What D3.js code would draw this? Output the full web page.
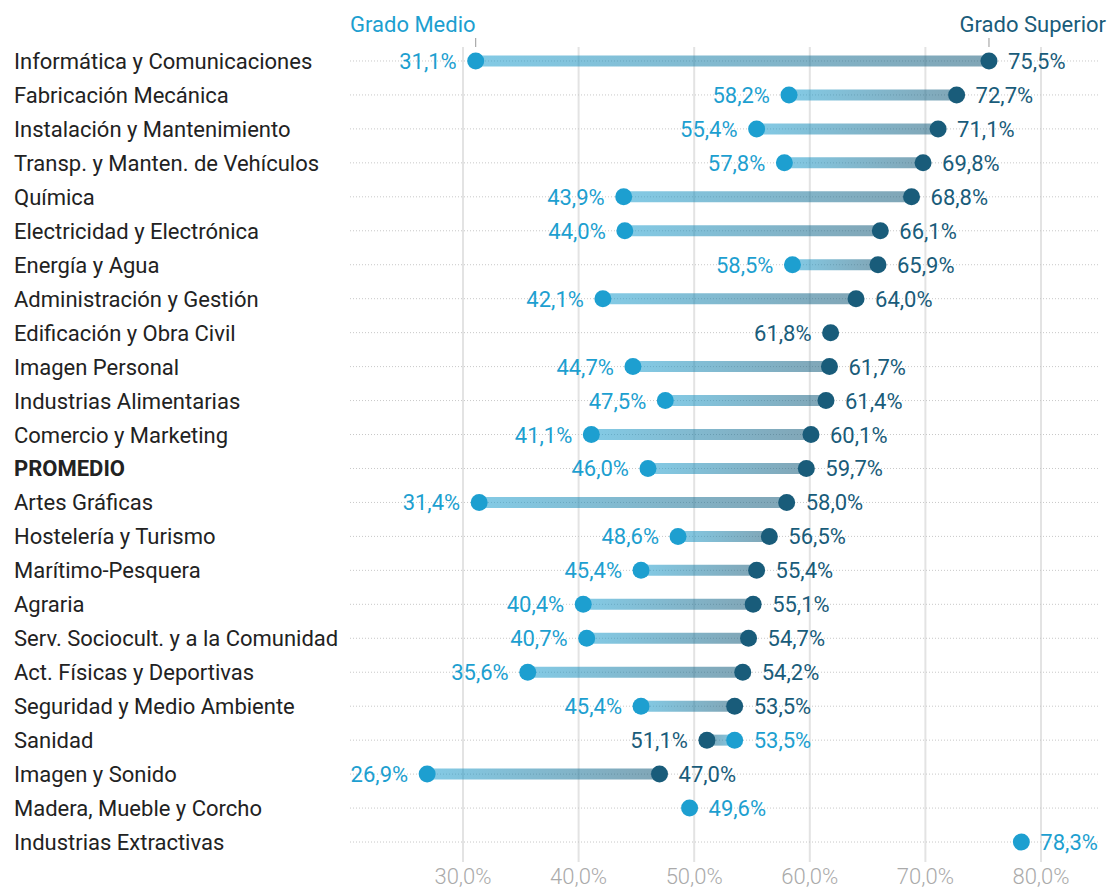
<!DOCTYPE html>
<html>
<head>
<meta charset="utf-8">
<script src="https://cdn.jsdelivr.net/npm/d3@7"></script>
<style>
  body { margin: 0; background: #fff; font-family: Roboto, "Noto Sans", sans-serif; }
  .grid line { stroke: #e3e3e3; stroke-width: 2; }
  .row-line { stroke: #c8c8c8; stroke-width: 1; stroke-dasharray: 1 2; }
  .cat { font-size: 22px; fill: #222; }
  .val { font-size: 22px; }
  .tick-lbl { font-size: 22px; fill: #aaa; font-weight: 300; }
</style>
</head>
<body>
<div id="chart"></div>
<script>
// Familias profesionales (de arriba a abajo)
const categories = [
  "Informática y Comunicaciones", "Fabricación Mecánica", "Instalación y Mantenimiento",
  "Transp. y Manten. de Vehículos", "Química", "Electricidad y Electrónica", "Energía y Agua",
  "Administración y Gestión", "Edificación y Obra Civil", "Imagen Personal",
  "Industrias Alimentarias", "Comercio y Marketing", "PROMEDIO", "Artes Gráficas",
  "Hostelería y Turismo", "Marítimo-Pesquera", "Agraria", "Serv. Sociocult. y a la Comunidad",
  "Act. Físicas y Deportivas", "Seguridad y Medio Ambiente", "Sanidad", "Imagen y Sonido",
  "Madera, Mueble y Corcho", "Industrias Extractivas"
];
const gradoMedio = [
  31.1, 58.2, 55.4, 57.8, 43.9, 44.0, 58.5, 42.1, null, 44.7, 47.5, 41.1,
  46.0, 31.4, 48.6, 45.4, 40.4, 40.7, 35.6, 45.4, 53.5, 26.9, 49.6, 78.3
];
const gradoSuperior = [
  75.5, 72.7, 71.1, 69.8, 68.8, 66.1, 65.9, 64.0, 61.8, 61.7, 61.4, 60.1,
  59.7, 58.0, 56.5, 55.4, 55.1, 54.7, 54.2, 53.5, 51.1, 47.0, null, null
];
const xTicks = [30, 40, 50, 60, 70, 80];
const seriesNames = ["Grado Medio", "Grado Superior"];

const colMedio = "#1d9fd0", colSup = "#195c7a";
const fmt = v => v.toFixed(1).replace(".", ",") + "%";

const W = 1110, H = 890;
const svg = d3.select("#chart").append("svg").attr("width", W).attr("height", H);
const defs = svg.append("defs");

const x = d3.scaleLinear().domain([30, 80]).range([463, 1041]);
const y = d3.scaleBand().domain(categories).range([44, 859]);
const cy = c => y(c) + y.bandwidth() / 2;

// Rejilla vertical
svg.append("g").attr("class", "grid")
  .selectAll("line").data(xTicks).join("line")
  .attr("x1", d => x(d)).attr("x2", d => x(d))
  .attr("y1", 47).attr("y2", 862);

svg.append("g").selectAll("text").data(xTicks).join("text")
  .attr("class", "tick-lbl")
  .attr("x", d => x(d)).attr("y", 884)
  .attr("text-anchor", "middle")
  .text(d => fmt(d));

const rows = categories.map((c, i) => ({ c, i, m: gradoMedio[i], s: gradoSuperior[i] }));

// Líneas punteadas por fila
svg.append("g").selectAll("line").data(rows).join("line")
  .attr("class", "row-line")
  .attr("x1", 350).attr("x2", 1100)
  .attr("y1", d => cy(d.c)).attr("y2", d => cy(d.c));

// Etiquetas de categorías (las muy largas se comprimen para no invadir el gráfico)
svg.append("g").selectAll("text").data(rows).join("text")
  .attr("class", "cat")
  .attr("x", 14).attr("y", d => cy(d.c) + 8)
  .style("font-weight", d => d.c === "PROMEDIO" ? "bold" : null)
  .text(d => d.c)
  .each(function () {
    if (this.getComputedTextLength() > 326)
      d3.select(this).attr("textLength", 326).attr("lengthAdjust", "spacingAndGlyphs");
  });

// Barras con degradado
const both = rows.filter(d => d.m != null && d.s != null);
both.forEach(d => {
  const g = defs.append("linearGradient")
    .attr("id", "grad" + d.i).attr("gradientUnits", "userSpaceOnUse")
    .attr("x1", x(d.m)).attr("x2", x(d.s)).attr("y1", 0).attr("y2", 0);
  g.append("stop").attr("offset", 0).attr("stop-color", colMedio);
  g.append("stop").attr("offset", 1).attr("stop-color", colSup);
});
svg.append("g").selectAll("line").data(both).join("line")
  .attr("x1", d => x(d.m)).attr("x2", d => x(d.s))
  .attr("y1", d => cy(d.c)).attr("y2", d => cy(d.c))
  .attr("stroke", d => `url(#grad${d.i})`)
  .attr("stroke-width", 11).attr("stroke-opacity", 0.55);

// Puntos
const dots = [];
rows.forEach(d => {
  if (d.s != null) dots.push({ c: d.c, v: d.s, col: colSup,
    left: d.m != null ? d.s < d.m : true });
  if (d.m != null) dots.push({ c: d.c, v: d.m, col: colMedio,
    left: d.s != null ? d.m < d.s : false });
});
svg.append("g").selectAll("circle").data(dots).join("circle")
  .attr("cx", d => x(d.v)).attr("cy", d => cy(d.c)).attr("r", 8.5)
  .attr("fill", d => d.col);

svg.append("g").selectAll("text").data(dots).join("text")
  .attr("class", "val")
  .attr("x", d => x(d.v) + (d.left ? -19 : 19))
  .attr("y", d => cy(d.c) + 8)
  .attr("text-anchor", d => d.left ? "end" : "start")
  .attr("fill", d => d.col)
  .text(d => fmt(d.v));

// Cabeceras de serie
const first = rows[0];
svg.append("line").attr("x1", x(first.m)).attr("x2", x(first.m)).attr("y1", 38).attr("y2", 47)
  .attr("stroke", "#999").attr("stroke-width", 1);
svg.append("line").attr("x1", x(first.s)).attr("x2", x(first.s)).attr("y1", 38).attr("y2", 47)
  .attr("stroke", "#999").attr("stroke-width", 1);
svg.append("text").attr("class", "val").attr("x", 350).attr("y", 32)
  .attr("fill", colMedio).text(seriesNames[0]);
svg.append("text").attr("class", "val").attr("x", 1106).attr("y", 32)
  .attr("text-anchor", "end").attr("fill", colSup).text(seriesNames[1]);
</script>
</body>
</html>
